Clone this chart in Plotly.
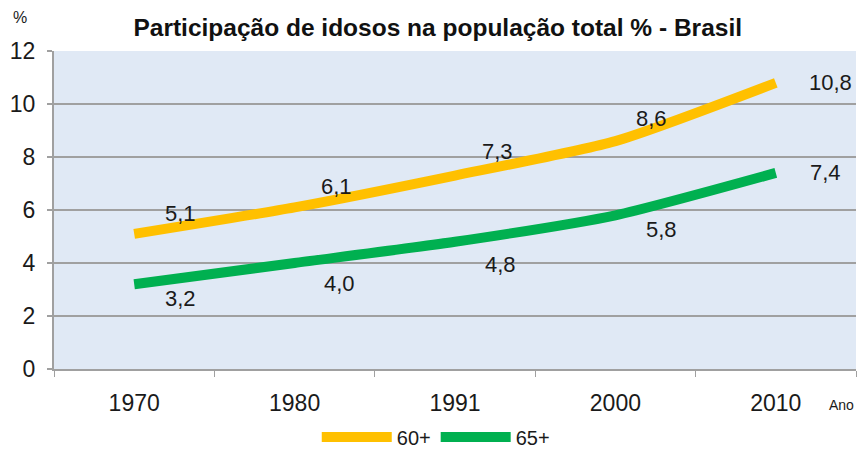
import plotly.graph_objects as go

years = ["1970", "1980", "1991", "2000", "2010"]
pop60 = [5.1, 6.1, 7.3, 8.6, 10.8]
pop65 = [3.2, 4.0, 4.8, 5.8, 7.4]
labels60 = ["5,1", "6,1", "7,3", "8,6", "10,8"]
labels65 = ["3,2", "4,0", "4,8", "5,8", "7,4"]
yticks = [0, 2, 4, 6, 8, 10, 12]

C60 = "#ffc000"
C65 = "#00b050"
FONT = "Liberation Sans, Arial"

fig = go.Figure()
fig.add_trace(go.Scatter(x=years, y=pop60, mode="lines", name="60+",
                         line=dict(color=C60, width=10, shape="spline", smoothing=0.6)))
fig.add_trace(go.Scatter(x=years, y=pop65, mode="lines", name="65+",
                         line=dict(color=C65, width=10, shape="spline", smoothing=0.6)))

ann = []
shift60 = [(46, 20), (42, 21), (42, 24), (36, 23), (55, 0)]
shift65 = [(46, -14), (45, -20), (45, -23), (46, -14), (50, 0)]
for i in range(len(years)):
    ann.append(dict(x=i, y=pop60[i], text=labels60[i], showarrow=False,
                    xshift=shift60[i][0], yshift=shift60[i][1],
                    font=dict(family=FONT, size=22, color="#1a1a1a")))
    ann.append(dict(x=i, y=pop65[i], text=labels65[i], showarrow=False,
                    xshift=shift65[i][0], yshift=shift65[i][1],
                    font=dict(family=FONT, size=22, color="#1a1a1a")))
ann.append(dict(xref="paper", yref="paper", x=1.0, y=-0.113, xanchor="right", yanchor="middle",
                text="Ano", showarrow=False, font=dict(family=FONT, size=14, color="#1a1a1a")))
ann.append(dict(xref="paper", yref="paper", x=-0.042, y=1.104, xanchor="center", yanchor="middle",
                text="%", showarrow=False, font=dict(family=FONT, size=16, color="#1a1a1a")))

fig.update_layout(
    width=860, height=450,
    margin=dict(l=54, r=4, t=51, b=81, autoexpand=False),
    paper_bgcolor="white",
    plot_bgcolor="#e0e9f5",
    title=dict(text="<b>Participação de idosos na população total % - Brasil</b>",
               x=0.509, xanchor="center", y=0.938, yanchor="middle",
               font=dict(family=FONT, size=24.5, color="#111111")),
    showlegend=True,
    legend=dict(orientation="h", x=0.476, xanchor="center", y=-0.214, yanchor="middle",
                itemwidth=70, font=dict(family=FONT, size=20, color="#1a1a1a"),
                bgcolor="rgba(0,0,0,0)", tracegroupgap=0),
    annotations=ann,
    xaxis=dict(type="category", range=[-0.5, 4.5], showgrid=False,
               showline=True, linecolor="#a0a0a0", linewidth=2,
               ticks="outside", tickson="boundaries", ticklen=6, tickcolor="#a0a0a0",
               tickwidth=1, ticklabelstandoff=12, automargin=False,
               tickfont=dict(family=FONT, size=23, color="#1a1a1a")),
    yaxis=dict(range=[0, 12], tickvals=yticks, showgrid=True, gridcolor="#a0a0a0", gridwidth=2,
               showline=True, linecolor="#a0a0a0", linewidth=2, zeroline=False,
               ticks="outside", ticklen=5, tickcolor="#a0a0a0", tickwidth=2,
               ticklabelstandoff=7, automargin=False,
               tickfont=dict(family=FONT, size=23, color="#1a1a1a")),
)

fig.write_html("out.html", config={"displayModeBar": False},
               post_script="document.body.style.margin='0';")
